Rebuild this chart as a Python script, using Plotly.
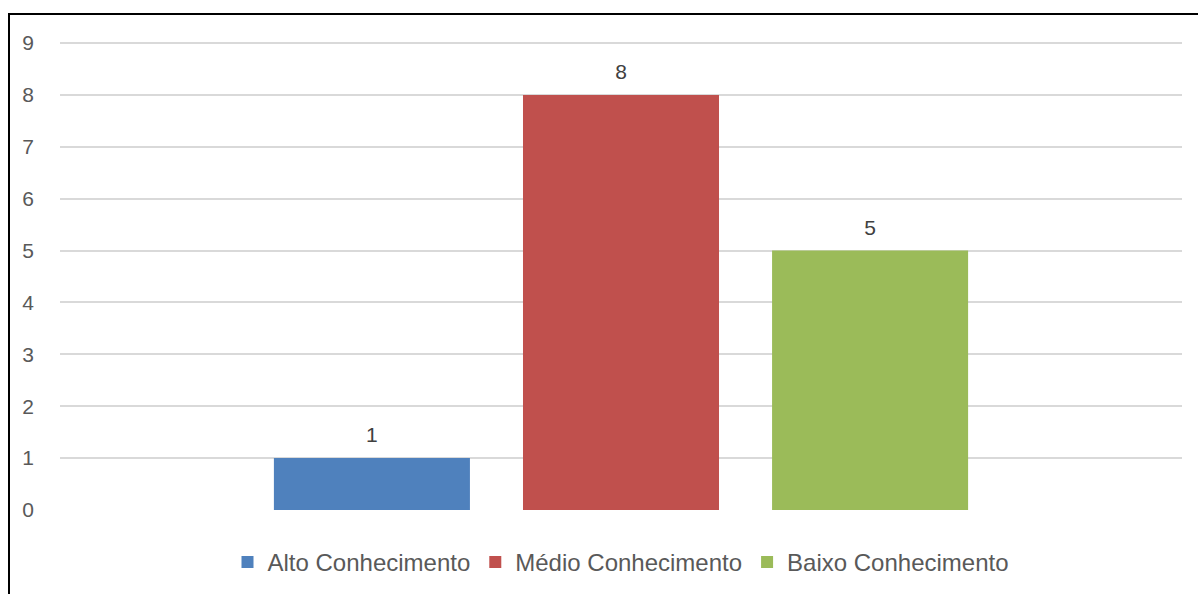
import plotly.graph_objects as go

# Nível de conhecimento dos respondentes
categoria = [""]
series = ["Alto Conhecimento", "Médio Conhecimento", "Baixo Conhecimento"]
valores = [1, 8, 5]
cores = ["#4F81BD", "#C0504D", "#9BBB59"]
y_ticks = list(range(0, 10))

W, H = 1198, 594
ML, MR, MT, MB = 60, 16, 42, 83.5
pw = W - ML - MR
ph = H - MT - MB
FONTE = "Liberation Sans, Arial, sans-serif"

fig = go.Figure()
for nome, v, cor in zip(series, valores, cores):
    fig.add_trace(go.Bar(
        x=categoria, y=[v], name=nome,
        marker=dict(color=cor, line=dict(width=0)),
    ))
# rótulos de dados, alinhados às barras do grupo
for nome, v in zip(series, valores):
    fig.add_trace(go.Scatter(
        x=categoria, y=[v], mode="markers+text", showlegend=False,
        text=[str(v)], textposition="top center", cliponaxis=False,
        marker=dict(size=15, opacity=0), hoverinfo="skip",
        textfont=dict(family=FONTE, size=21, color="#404040"),
    ))

# moldura do gráfico (px -> paper); só as bordas esquerda e superior ficam visíveis
def px_x(p):
    return (p - ML) / pw

def px_y(p):
    return (H - MB - p) / ph

fig.add_shape(type="line", xref="paper", yref="paper",
              x0=px_x(9), x1=px_x(9), y0=px_y(H + 20), y1=px_y(14),
              line=dict(color="#000000", width=2), layer="above")
fig.add_shape(type="line", xref="paper", yref="paper",
              x0=px_x(8), x1=px_x(W + 20), y0=px_y(14), y1=px_y(14),
              line=dict(color="#000000", width=2), layer="above")

fig.update_layout(
    width=W, height=H,
    margin=dict(l=ML, r=MR, t=MT, b=MB, pad=0, autoexpand=False),
    paper_bgcolor="white", plot_bgcolor="white",
    barmode="group", bargap=0.334, bargroupgap=0.213,
    scattermode="group", scattergap=0.334,
    font=dict(family=FONTE, size=21, color="#595959"),
    showlegend=True,
    legend=dict(orientation="h", x=0.5, xanchor="center", y=px_y(563), yanchor="middle",
                font=dict(size=24, color="#595959"), itemwidth=30,
                traceorder="normal", bgcolor="rgba(0,0,0,0)"),
    xaxis=dict(showticklabels=False, showgrid=False, zeroline=False, showline=False,
               ticks="", fixedrange=True),
    yaxis=dict(range=[0, 9.02], tickvals=y_ticks, showgrid=True, gridcolor="#D9D9D9",
               gridwidth=1.5, zeroline=False, showline=False, ticks="",
               ticklabelstandoff=25, tickfont=dict(size=21, color="#595959")),
)

fig.write_html("out.html")
